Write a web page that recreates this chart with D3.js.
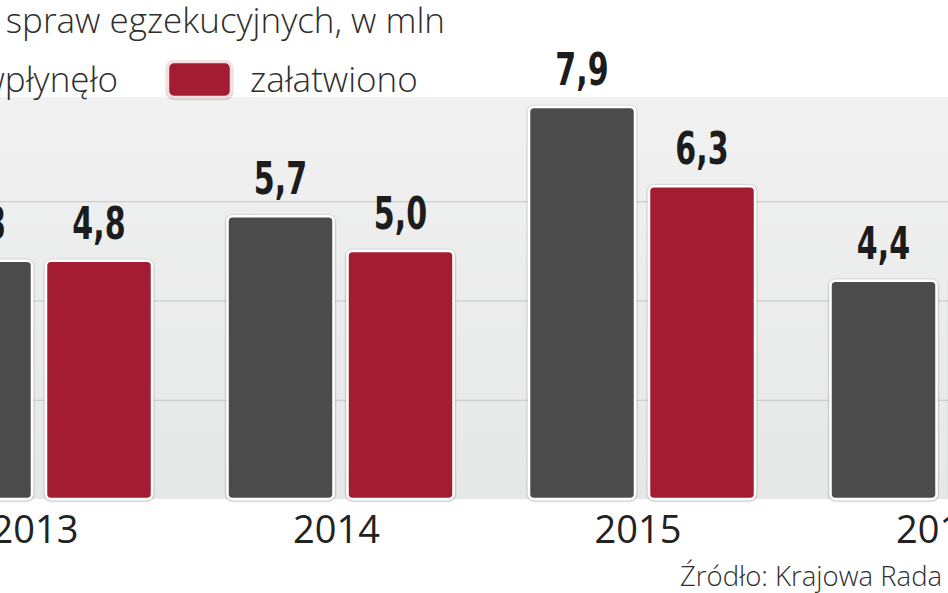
<!DOCTYPE html>
<html>
<head>
<meta charset="utf-8">
<script src="https://cdn.jsdelivr.net/npm/d3@7"></script>
<style>
  html, body { margin: 0; padding: 0; background: #ffffff; overflow: hidden; }
  svg { display: block; }
</style>
</head>
<body>
<svg id="chart" width="948" height="593"></svg>
<script>
// ---- data ----
const years = ["2013", "2014", "2015", "2016"];
const seriesNames = ["wpłynęło", "załatwiono"];
const received = [4.8, 5.7, 7.9, 4.4];   // wpłynęło
const resolved = [4.8, 5.0, 6.3, 4.5];   // załatwiono (2016 value lies outside the crop)
const gridTicks = [2, 4, 6];
const titleText = "Liczba spraw egzekucyjnych, w mln";
const sourceText = "Źródło: Krajowa Rada Komornicza";

const colors = { "wpłynęło": "#4b4c4c", "załatwiono": "#a31c33" };

const W = 948, H = 593;
const svg = d3.select("#chart");

const defs = svg.append("defs");
const grad = defs.append("linearGradient").attr("id", "bandGrad")
  .attr("x1", 0).attr("x2", 0).attr("y1", 0).attr("y2", 1);
grad.append("stop").attr("offset", "0%").attr("stop-color", "#f1f1f1");
grad.append("stop").attr("offset", "100%").attr("stop-color", "#e6e7e7");
const sh = defs.append("filter").attr("id", "barShadow")
  .attr("x", "-10%").attr("y", "-10%").attr("width", "120%").attr("height", "120%");
sh.append("feDropShadow").attr("dx", 0).attr("dy", 0.5).attr("stdDeviation", 1.2)
  .attr("flood-color", "#000").attr("flood-opacity", 0.45);

// ---- scales ----
const step = 301.5;
const x0 = -111.75;
const x = d3.scaleBand().domain(years)
  .range([x0, x0 + step * years.length])
  .paddingInner(75.5 / step).paddingOuter(75.5 / step / 2);
const xs = d3.scaleBand().domain(seriesNames)
  .range([0, x.bandwidth()]).paddingInner(14 / 120);
const y = d3.scaleLinear().domain([0, 8]).range([499, 102]);

// ---- plot band ----
svg.append("rect")
  .attr("x", 0).attr("y", y(8.1)).attr("width", W).attr("height", y(0) - y(8.1))
  .attr("fill", "url(#bandGrad)");

// gridlines via axis
const yAxis = d3.axisLeft(y).tickValues(gridTicks).tickSize(-W).tickFormat("");
const g = svg.append("g").call(yAxis);
g.select(".domain").remove();
g.selectAll(".tick line").attr("stroke", "#c4c5c5").attr("stroke-width", 1.2);

// ---- bars ----
const data = [];
years.forEach((yr, i) => {
  data.push({ year: yr, series: seriesNames[0], value: received[i] });
  data.push({ year: yr, series: seriesNames[1], value: resolved[i] });
});

const bars = svg.append("g");
bars.selectAll("rect").data(data).join("rect")
  .attr("x", d => x(d.year) + xs(d.series))
  .attr("y", d => y(d.value))
  .attr("width", xs.bandwidth())
  .attr("height", d => y(0) - y(d.value))
  .attr("rx", 5).attr("ry", 5)
  .attr("fill", d => colors[d.series])
  .attr("stroke", "#ffffff").attr("stroke-width", 2.5)
  .attr("filter", "url(#barShadow)");

// value labels (condensed bold look)
const fmt = v => d3.format(".1f")(v).replace(".", ",");
svg.append("g").selectAll("text").data(data).join("text")
  .attr("transform", d => `translate(${x(d.year) + xs(d.series) + xs.bandwidth() / 2},${y(d.value) - 22}) scale(0.76,1)`)
  .attr("text-anchor", "middle")
  .attr("font-family", "'DejaVu Sans Condensed', 'DejaVu Sans', sans-serif")
  .attr("font-weight", "bold")
  .attr("font-size", 44)
  .attr("fill", "#1c1c1c")
  .text(d => fmt(d.value));

// year labels
const xAxis = d3.axisBottom(x).tickSize(0).tickPadding(0);
const xa = svg.append("g").attr("transform", `translate(-4,543)`).call(xAxis);
xa.select(".domain").remove();
xa.selectAll(".tick text")
  .attr("dy", 0).attr("y", 0)
  .attr("font-family", "'Open Sans', 'Noto Sans', sans-serif")
  .attr("font-size", 38)
  .attr("fill", "#222");

// ---- title ----
const lightFont = "'Open Sans', 'Noto Sans', sans-serif";
svg.append("text")
  .attr("x", 445).attr("y", 33)
  .attr("text-anchor", "end")
  .attr("font-family", lightFont)
  .attr("font-weight", 300)
  .attr("font-size", 35)
  .attr("fill", "#2e2e2e")
  .text(titleText);

// ---- legend ----
const legend = svg.append("g");
legend.append("rect")
  .attr("x", 168).attr("y", 62).attr("width", 63).attr("height", 35)
  .attr("rx", 6).attr("ry", 6)
  .attr("fill", colors[seriesNames[1]])
  .attr("stroke", "#f6dde0").attr("stroke-width", 2.5)
  .attr("filter", "url(#barShadow)");
legend.append("text")
  .attr("x", 250).attr("y", 92)
  .attr("font-family", lightFont).attr("font-weight", 300)
  .attr("font-size", 35).attr("fill", "#2e2e2e")
  .text(seriesNames[1]);
const t1 = legend.append("text")
  .attr("x", 118).attr("y", 92).attr("text-anchor", "end")
  .attr("font-family", lightFont).attr("font-weight", 300)
  .attr("font-size", 35).attr("fill", "#2e2e2e")
  .text(seriesNames[0]);
const t1w = t1.node().getComputedTextLength();
legend.append("rect")
  .attr("x", 118 - t1w - 18 - 63).attr("y", 62).attr("width", 63).attr("height", 35)
  .attr("rx", 6).attr("ry", 6)
  .attr("fill", colors[seriesNames[0]])
  .attr("stroke", "#e6e6e6").attr("stroke-width", 2.5);

// ---- source ----
svg.append("text")
  .attr("x", 680).attr("y", 586)
  .attr("font-family", lightFont).attr("font-weight", 300)
  .attr("font-size", 27.5).attr("fill", "#2e2e2e")
  .text(sourceText);
</script>
</body>
</html>
